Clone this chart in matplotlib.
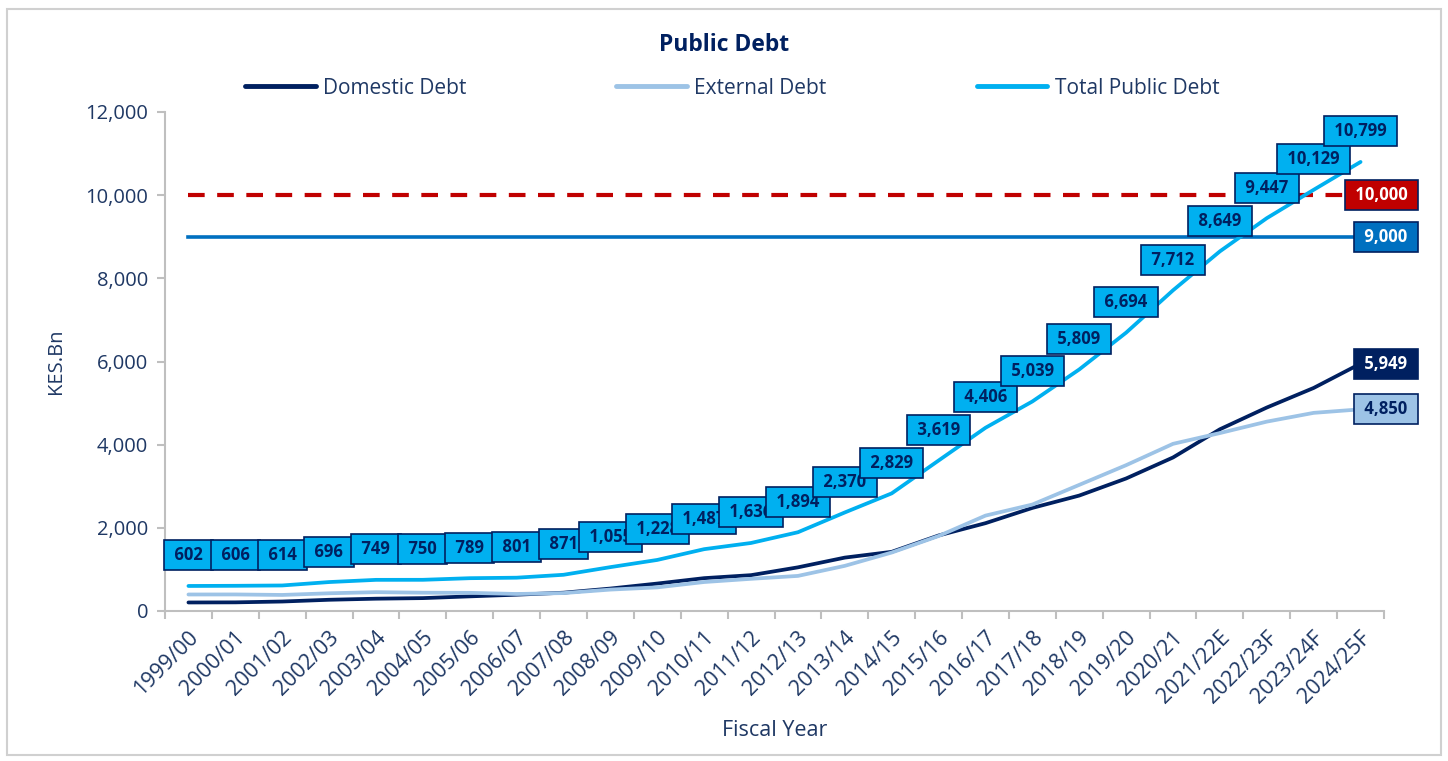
import matplotlib
matplotlib.use("Agg")
import matplotlib.pyplot as plt
import matplotlib.transforms as mtransforms
from matplotlib.lines import Line2D
from matplotlib.patches import Rectangle
from matplotlib.ticker import FuncFormatter, FixedLocator
import numpy as np

# ---- data (KES bn) ----
years = ['1999/00', '2000/01', '2001/02', '2002/03', '2003/04', '2004/05', '2005/06',
         '2006/07', '2007/08', '2008/09', '2009/10', '2010/11', '2011/12', '2012/13',
         '2013/14', '2014/15', '2015/16', '2016/17', '2017/18', '2018/19', '2019/20',
         '2020/21', '2021/22E', '2022/23F', '2023/24F', '2024/25F']
domestic = [205, 208, 228, 270, 296, 310, 352, 392, 440, 540, 660, 790, 862, 1050,
            1284, 1423, 1816, 2112, 2479, 2776, 3187, 3692, 4370, 4893, 5364, 5949]
external = [397, 398, 386, 426, 453, 440, 437, 409, 431, 515, 568, 697, 774, 844,
            1086, 1406, 1803, 2294, 2560, 3033, 3507, 4020, 4279, 4554, 4765, 4850]
total = [602, 606, 614, 696, 749, 750, 789, 801, 871, 1055, 1228, 1487, 1636, 1894,
         2370, 2829, 3619, 4406, 5039, 5809, 6694, 7712, 8649, 9447, 10129, 10799]
threshold_high = 10000
threshold_low = 9000

# colours
navy = '#002060'
text_col = '#1F3864'
light_blue = '#9DC3E6'
cyan = '#00B0F0'
mid_blue = '#0070C0'
red = '#C00000'
grey = '#BFBFBF'

plt.rcParams['font.family'] = ['Open Sans', 'DejaVu Sans']

fig = plt.figure(figsize=(14.48, 7.61), dpi=100)
W, H = 1448, 761
ax = fig.add_axes([165 / W, 1 - 611 / H, (1384 - 165) / W, (611 - 112) / H])

x = np.arange(len(years))

ax.plot(x, [threshold_high] * len(x), color=red, lw=3, ls=(0, (4, 3)), zorder=2)
ax.plot(x, [threshold_low] * len(x), color=mid_blue, lw=2.6, zorder=2)
ax.plot(x, domestic, color=navy, lw=2.7, solid_capstyle='round', zorder=3)
ax.plot(x, external, color=light_blue, lw=2.7, solid_capstyle='round', zorder=3)
ax.plot(x, total, color=cyan, lw=2.7, solid_capstyle='round', zorder=3)

ax.set_xlim(-0.5, len(years) - 0.5)
ax.set_ylim(0, 12000)

# data labels on the total line
for i, v in enumerate(total):
    ax.annotate(f' {v:,} ', xy=(i, v), xytext=(0, 22), textcoords='offset points',
                ha='center', va='center', fontsize=12, fontweight='bold', color=navy,
                bbox=dict(boxstyle='square,pad=0.36', fc=cyan, ec=navy, lw=1.2),
                zorder=5, annotation_clip=False)

# end labels on the right
last = len(years) - 1
end_labels = [(threshold_high, red, 'white'), (threshold_low, mid_blue, 'white'),
              (domestic[-1], navy, 'white'), (external[-1], light_blue, navy)]
for v, fc, tc in end_labels:
    ax.annotate(f' {v:,} ', xy=(last, v), xytext=(37, 0), textcoords='offset points',
                ha='right', va='center', fontsize=12, fontweight='bold', color=tc,
                bbox=dict(boxstyle='square,pad=0.36', fc=fc, ec=navy, lw=1.2),
                zorder=6, annotation_clip=False)

# axes styling
for s in ['top', 'right']:
    ax.spines[s].set_visible(False)
for s in ['left', 'bottom']:
    ax.spines[s].set_color(grey)
    ax.spines[s].set_linewidth(1.5)

ax.set_yticks(np.arange(0, 12001, 2000))
ax.yaxis.set_major_formatter(FuncFormatter(lambda v, p: f'{int(v):,}'))
ax.tick_params(axis='y', colors=grey, labelcolor=text_col, labelsize=14.5, length=6,
               width=1.5, pad=6)

ax.set_xticks(x)
ax.set_xticklabels(years, rotation=45, ha='right', va='center', rotation_mode='anchor')
ax.xaxis.set_minor_locator(FixedLocator(np.arange(-0.5, len(years), 1)))
ax.tick_params(axis='x', which='major', length=0, labelsize=15.5, labelcolor=text_col, pad=17)
ax.tick_params(axis='x', which='minor', length=6, width=1.5, color=grey)
offset = mtransforms.ScaledTranslation(7 / 100, 0, fig.dpi_scale_trans)
for lab in ax.get_xticklabels():
    lab.set_transform(lab.get_transform() + offset)

ax.set_ylabel('KES.Bn', fontsize=14.5, color=text_col, labelpad=14)
fig.text(775 / W, 1 - 731 / H, 'Fiscal Year', fontsize=15.5, color=text_col,
         ha='center', va='center')
fig.text(724 / W, 1 - 45 / H, 'Public Debt', fontsize=16.5, fontweight='bold',
         color=navy, ha='center', va='center')

handles = [Line2D([], [], color=navy, lw=3.5, solid_capstyle='round'),
           Line2D([], [], color=light_blue, lw=3.5, solid_capstyle='round'),
           Line2D([], [], color=cyan, lw=3.5, solid_capstyle='round')]
fig.legend(handles, ['Domestic Debt', 'External Debt', 'Total Public Debt'],
           loc='center', bbox_to_anchor=(732 / W, 1 - 88 / H), ncol=3, frameon=False,
           fontsize=15, labelcolor=text_col, handlelength=3.4, handletextpad=0.35,
           columnspacing=7.2)

# outer border
fig.patches.append(Rectangle((7 / W, 1 - 755 / H), (1441 - 7) / W, (755 - 9) / H,
                             transform=fig.transFigure, fill=False, ec='#D0D0D0', lw=1.5))

fig.savefig('out.png', dpi=100)
